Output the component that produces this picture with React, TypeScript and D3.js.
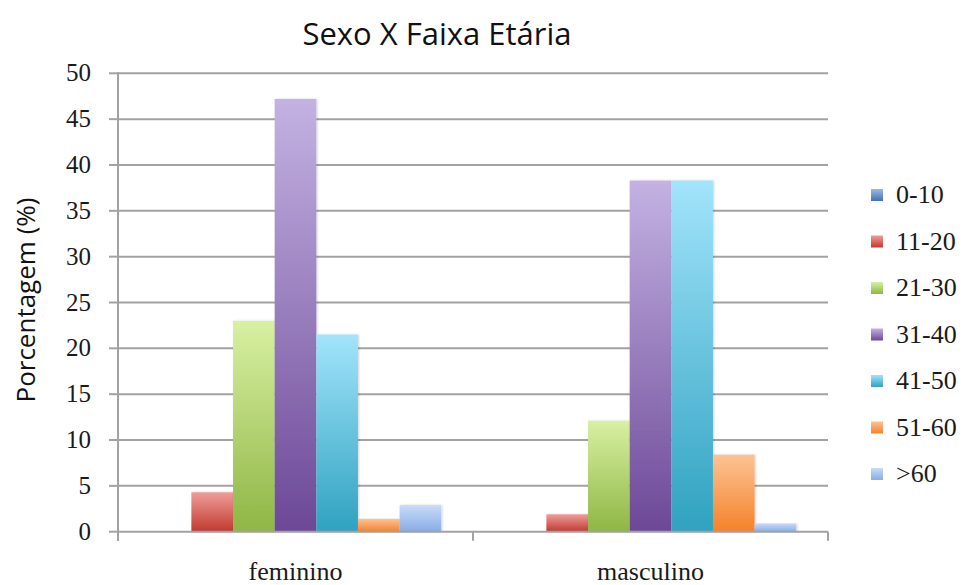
import React from "react";
import * as d3 from "d3";

const categories = ["feminino", "masculino"];
const series = ["0-10", "11-20", "21-30", "31-40", "41-50", "51-60", ">60"];
const feminino = [0, 4.3, 23.0, 47.2, 21.5, 1.4, 2.9];
const masculino = [0, 1.9, 12.1, 38.3, 38.3, 8.4, 0.9];
const yTicks = [0, 5, 10, 15, 20, 25, 30, 35, 40, 45, 50];
const colorsTop = ["#9db8e3", "#ee9d9b", "#d8f0a2", "#c4b2e2", "#a2e4fb", "#fdc394", "#c8dbfa"];
const colorsBottom = ["#3f72b5", "#c0392f", "#8fb645", "#6c4897", "#2fa2c0", "#f4822a", "#88ace5"];

const W = 966, H = 585;
const left = 118, right = 828, top = 73.3, bottom = 531.7;

export default function App() {
  const values = [feminino, masculino];
  const x0 = d3.scaleBand().domain(categories).range([left, right]).paddingInner(0).paddingOuter(0);
  const groupW = 291.5;
  const x1 = d3.scaleBand().domain(series).range([0, groupW]).padding(0);
  const y = d3.scaleLinear().domain([0, 50]).range([bottom, top]);
  const serif = "'Liberation Serif', 'Times New Roman', serif";
  const sans = "'Open Sans', 'Noto Sans', sans-serif";
  const grid = "#a2a2a2";
  return (
    <svg width={W} height={H} style={{ position: "absolute", left: 0, top: 0, background: "#fff" }}>
      <defs>
        {series.map((s, i) => (
          <linearGradient key={s} id={`g${i}`} x1="0" y1="0" x2="0" y2="1">
            <stop offset="0%" stopColor={colorsTop[i]} />
            <stop offset="100%" stopColor={colorsBottom[i]} />
          </linearGradient>
        ))}
        <filter id="sh" x="-20%" y="-5%" width="140%" height="110%">
          <feDropShadow dx="1" dy="0" stdDeviation="1.2" floodColor="#000" floodOpacity="0.18" />
        </filter>
      </defs>
      <rect width={W} height={H} fill="#fff" />
      <text x={437} y={45} textAnchor="middle" fontFamily={sans} fontSize={31} fill="#111">
        Sexo X Faixa Etária
      </text>
      {yTicks.map((t) => (
        <g key={t}>
          {t > 0 && <line x1={left} x2={right} y1={y(t)} y2={y(t)} stroke={grid} strokeWidth={2} />}
          <line x1={left - 9} x2={left} y1={y(t)} y2={y(t)} stroke={grid} strokeWidth={2} />
          <text x={91} y={y(t) + 8} textAnchor="end" fontFamily={serif} fontSize={25} fill="#1a1a1a">
            {t}
          </text>
        </g>
      ))}
      {categories.map((c, ci) => {
        const gx = (x0(c) as number) + (x0.bandwidth() - groupW) / 2;
        return (
          <g key={c}>
            {series.map((s, si) => {
              const v = values[ci][si];
              if (v <= 0) return null;
              const bx = gx + (x1(s) as number);
              return (
                <rect
                  key={s}
                  x={bx}
                  y={y(v)}
                  width={x1.bandwidth()}
                  height={y(0) - y(v)}
                  fill={`url(#g${si})`}
                  filter="url(#sh)"
                />
              );
            })}
            <text
              x={(x0(c) as number) + x0.bandwidth() / 2}
              y={580}
              textAnchor="middle"
              fontFamily={serif}
              fontSize={26}
              fill="#1a1a1a"
            >
              {c}
            </text>
          </g>
        );
      })}
      <line x1={left} x2={right} y1={bottom} y2={bottom} stroke={grid} strokeWidth={2} />
      <line x1={left} x2={left} y1={top - 1} y2={bottom + 9} stroke={grid} strokeWidth={2} />
      {[left, left + x0.bandwidth(), right].map((xx, i) => (
        <line key={i} x1={xx} x2={xx} y1={bottom} y2={bottom + 9} stroke={grid} strokeWidth={2} />
      ))}
      <text
        transform={`translate(35, 300) rotate(-90)`}
        textAnchor="middle"
        fontFamily={sans}
        fontSize={26}
        fill="#111"
      >
        Porcentagem (%)
      </text>
      {series.map((s, i) => {
        const cy = 195 + i * 46.5;
        return (
          <g key={s}>
            <rect x={871} y={cy - 6} width={12} height={12} fill={`url(#g${i})`} />
            <text x={896} y={cy + 8} fontFamily={serif} fontSize={26} fill="#1a1a1a">
              {s}
            </text>
          </g>
        );
      })}
    </svg>
  );
}
